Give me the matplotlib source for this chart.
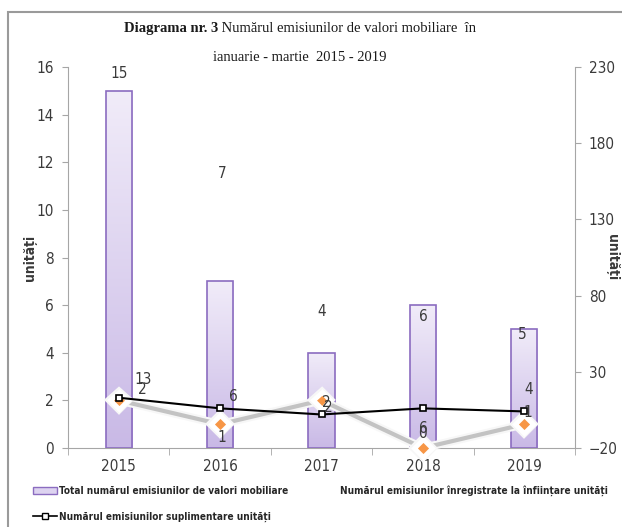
import numpy as np
import matplotlib
matplotlib.use('Agg')
import matplotlib.pyplot as plt
import matplotlib.patheffects as pe
from matplotlib import font_manager
from matplotlib.patches import Rectangle, Patch
from matplotlib.lines import Line2D

years = ['2015', '2016', '2017', '2018', '2019']
total = [15, 7, 4, 6, 5]
suplimentare = [13, 6, 2, 6, 4]
inregistrate = [2, 1, 2, 0, 1]

left_ticks = [0, 2, 4, 6, 8, 10, 12, 14, 16]
right_ticks = [-20, 30, 80, 130, 180, 230]

# narrow sans for ticks / labels: use a condensed face if there is one
cond = font_manager.FontProperties(family='DejaVu Sans', stretch='condensed')
if 'Condensed' in font_manager.findfont(cond):
    NARROW = dict(family=['DejaVu Sans'], stretch='condensed')
else:
    NARROW = dict(family=['Liberation Sans', 'DejaVu Sans'])
SERIF = ['Liberation Serif', 'DejaVu Serif']
txt_col = '#3a3a3a'
axis_col = '#a6a6a6'

W, H = 622, 527
fig = plt.figure(figsize=(W / 100, H / 100), dpi=100)
ax = fig.add_axes([68 / W, 1 - 448 / H, (575 - 68) / W, (448 - 67) / H])
ax2 = ax.twinx()

x = np.arange(len(years))

# bars with a vertical gradient
bars = ax.bar(x, total, width=0.26, facecolor='none', edgecolor='#8b6cc0',
              linewidth=1.2, zorder=3)
grad = np.linspace(0, 1, 256).reshape(-1, 1)
cmap = matplotlib.colors.LinearSegmentedColormap.from_list('pur', ['#f1ecf9', '#c9b9e6'])
for b in bars:
    bx, by = b.get_x(), b.get_y()
    bw, bh = b.get_width(), b.get_height()
    im = ax.imshow(grad, cmap=cmap, aspect='auto', extent=[bx, bx + bw, by, by + bh],
                   origin='upper', zorder=2)
    im.set_clip_path(b)

# gray line with orange diamonds (left axis)
ax.plot(x, inregistrate, color='#c3c3c3', lw=3, zorder=4, clip_on=False,
        marker='D', markersize=9, markerfacecolor='#f79646', markeredgecolor='white',
        markeredgewidth=3.5,
        path_effects=[pe.Stroke(linewidth=6, foreground='#f7f7f7'), pe.Normal()])

# black line with squares (right axis)
ax2.plot(x, suplimentare, color='black', lw=1.5, zorder=5, marker='s', markersize=5,
         markerfacecolor='white', markeredgecolor='black', markeredgewidth=1.2)

ax.set_xlim(-0.5, 4.5)
ax.set_ylim(0, 16)
ax2.set_ylim(-20, 230)
ax.set_yticks(left_ticks)
ax2.set_yticks(right_ticks)
ax.set_xticks(x)
ax.set_xticklabels(years)
ax.set_xticks(np.arange(-0.5, 5, 1), minor=True)
ax.tick_params(axis='x', which='major', length=0, pad=8)
ax.tick_params(axis='x', which='minor', length=5, color=axis_col, direction='out')

for a in (ax, ax2):
    a.patch.set_visible(False)
    a.spines['top'].set_visible(False)
    for s in ('left', 'right', 'bottom'):
        a.spines[s].set_color(axis_col)
    a.tick_params(axis='y', length=4, color=axis_col, pad=6)
    for lab in a.get_xticklabels() + a.get_yticklabels():
        lab.update(NARROW)
        lab.set_fontsize(11)
        lab.set_color(txt_col)
ax.spines['right'].set_visible(False)
ax2.spines['left'].set_visible(False)
ax2.spines['bottom'].set_visible(False)
ax.set_zorder(1)
ax2.set_zorder(2)

ax.set_ylabel('unități', fontsize=10, fontweight='bold', color=txt_col, **NARROW)
ax2.set_ylabel('unități', fontsize=10, fontweight='bold', color=txt_col,
               rotation=-90, va='center', **NARROW)
ax.yaxis.set_label_coords(-0.062, 0.5)
ax2.yaxis.set_label_coords(1.073, 0.5)

# data labels (offsets in pixels, as placed in the original)
lab_kw = dict(textcoords='offset pixels', ha='center', va='center',
              fontsize=11, color=txt_col, zorder=6, **NARROW)
bar_off = [(0, 17), (2, 108), (0, 41), (0, -11), (-2, -6)]
for xi, v, off in zip(x, total, bar_off):
    ax.annotate(str(v), (xi, v), xytext=off, **lab_kw)
sup_off = [(24, 18), (13, 12), (7, 7), (0, -20), (4, 22)]
for xi, v, off in zip(x, suplimentare, sup_off):
    ax2.annotate(str(v), (xi, v), xytext=off, **lab_kw)
inr_off = [(24, 11), (2, -13), (5, -2), (0, 14), (4, 12)]
for xi, v, off in zip(x, inregistrate, inr_off):
    ax.annotate(str(v), (xi, v), xytext=off, annotation_clip=False, **lab_kw)

# title: bold prefix + regular rest
fig.canvas.draw()
r = fig.canvas.get_renderer()
t1 = fig.text(0, 0, 'Diagrama nr. 3', family=SERIF, fontsize=10.5, fontweight='bold',
              color='#1a1a1a')
t2 = fig.text(0, 0, ' Numărul emisiunilor de valori mobiliare  în', family=SERIF,
              fontsize=10.5, color='#1a1a1a')
w1 = t1.get_window_extent(r).width
w2 = t2.get_window_extent(r).width
x0 = 300 - (w1 + w2) / 2
t1.set_position((x0 / W, 1 - 32 / H))
t2.set_position(((x0 + w1) / W, 1 - 32 / H))
fig.text(300 / W, 1 - 61 / H, 'ianuarie - martie  2015 - 2019', family=SERIF,
         fontsize=10.5, color='#1a1a1a', ha='center')

# legend entries
prop = dict(size=7.2, weight='bold', **NARROW)
leg_kw = dict(frameon=False, prop=prop, handlelength=2.4, handletextpad=0.2,
              borderaxespad=0, borderpad=0)
h1 = Patch(facecolor='#ddd3f0', edgecolor='#8b6cc0', linewidth=1.0)
l1 = fig.legend([h1], ['Total numărul emisiunilor de valori mobiliare'], loc='center left',
                bbox_to_anchor=(33 / W, 1 - 491 / H), **leg_kw)
h2 = Line2D([], [], color='none')
l2 = fig.legend([h2], ['Numărul emisiunilor înregistrate la înființare unități'],
                loc='center right', bbox_to_anchor=(608 / W, 1 - 491 / H), **leg_kw)
h3 = Line2D([], [], color='black', lw=1.2, marker='s', markersize=4,
            markerfacecolor='white', markeredgecolor='black')
l3 = fig.legend([h3], ['Numărul emisiunilor suplimentare unități'], loc='center left',
                bbox_to_anchor=(33 / W, 1 - 517 / H), **leg_kw)
for lg in (l1, l2, l3):
    for t in lg.get_texts():
        t.set_color('#262626')

# outer frame of the chart area
fig.patches.append(Rectangle((8 / W, -0.2), 1.2, 1 - 12 / H + 0.2, transform=fig.transFigure,
                             fill=False, edgecolor='#9a9a9a', linewidth=1.5))

fig.savefig('out.png', dpi=100)
